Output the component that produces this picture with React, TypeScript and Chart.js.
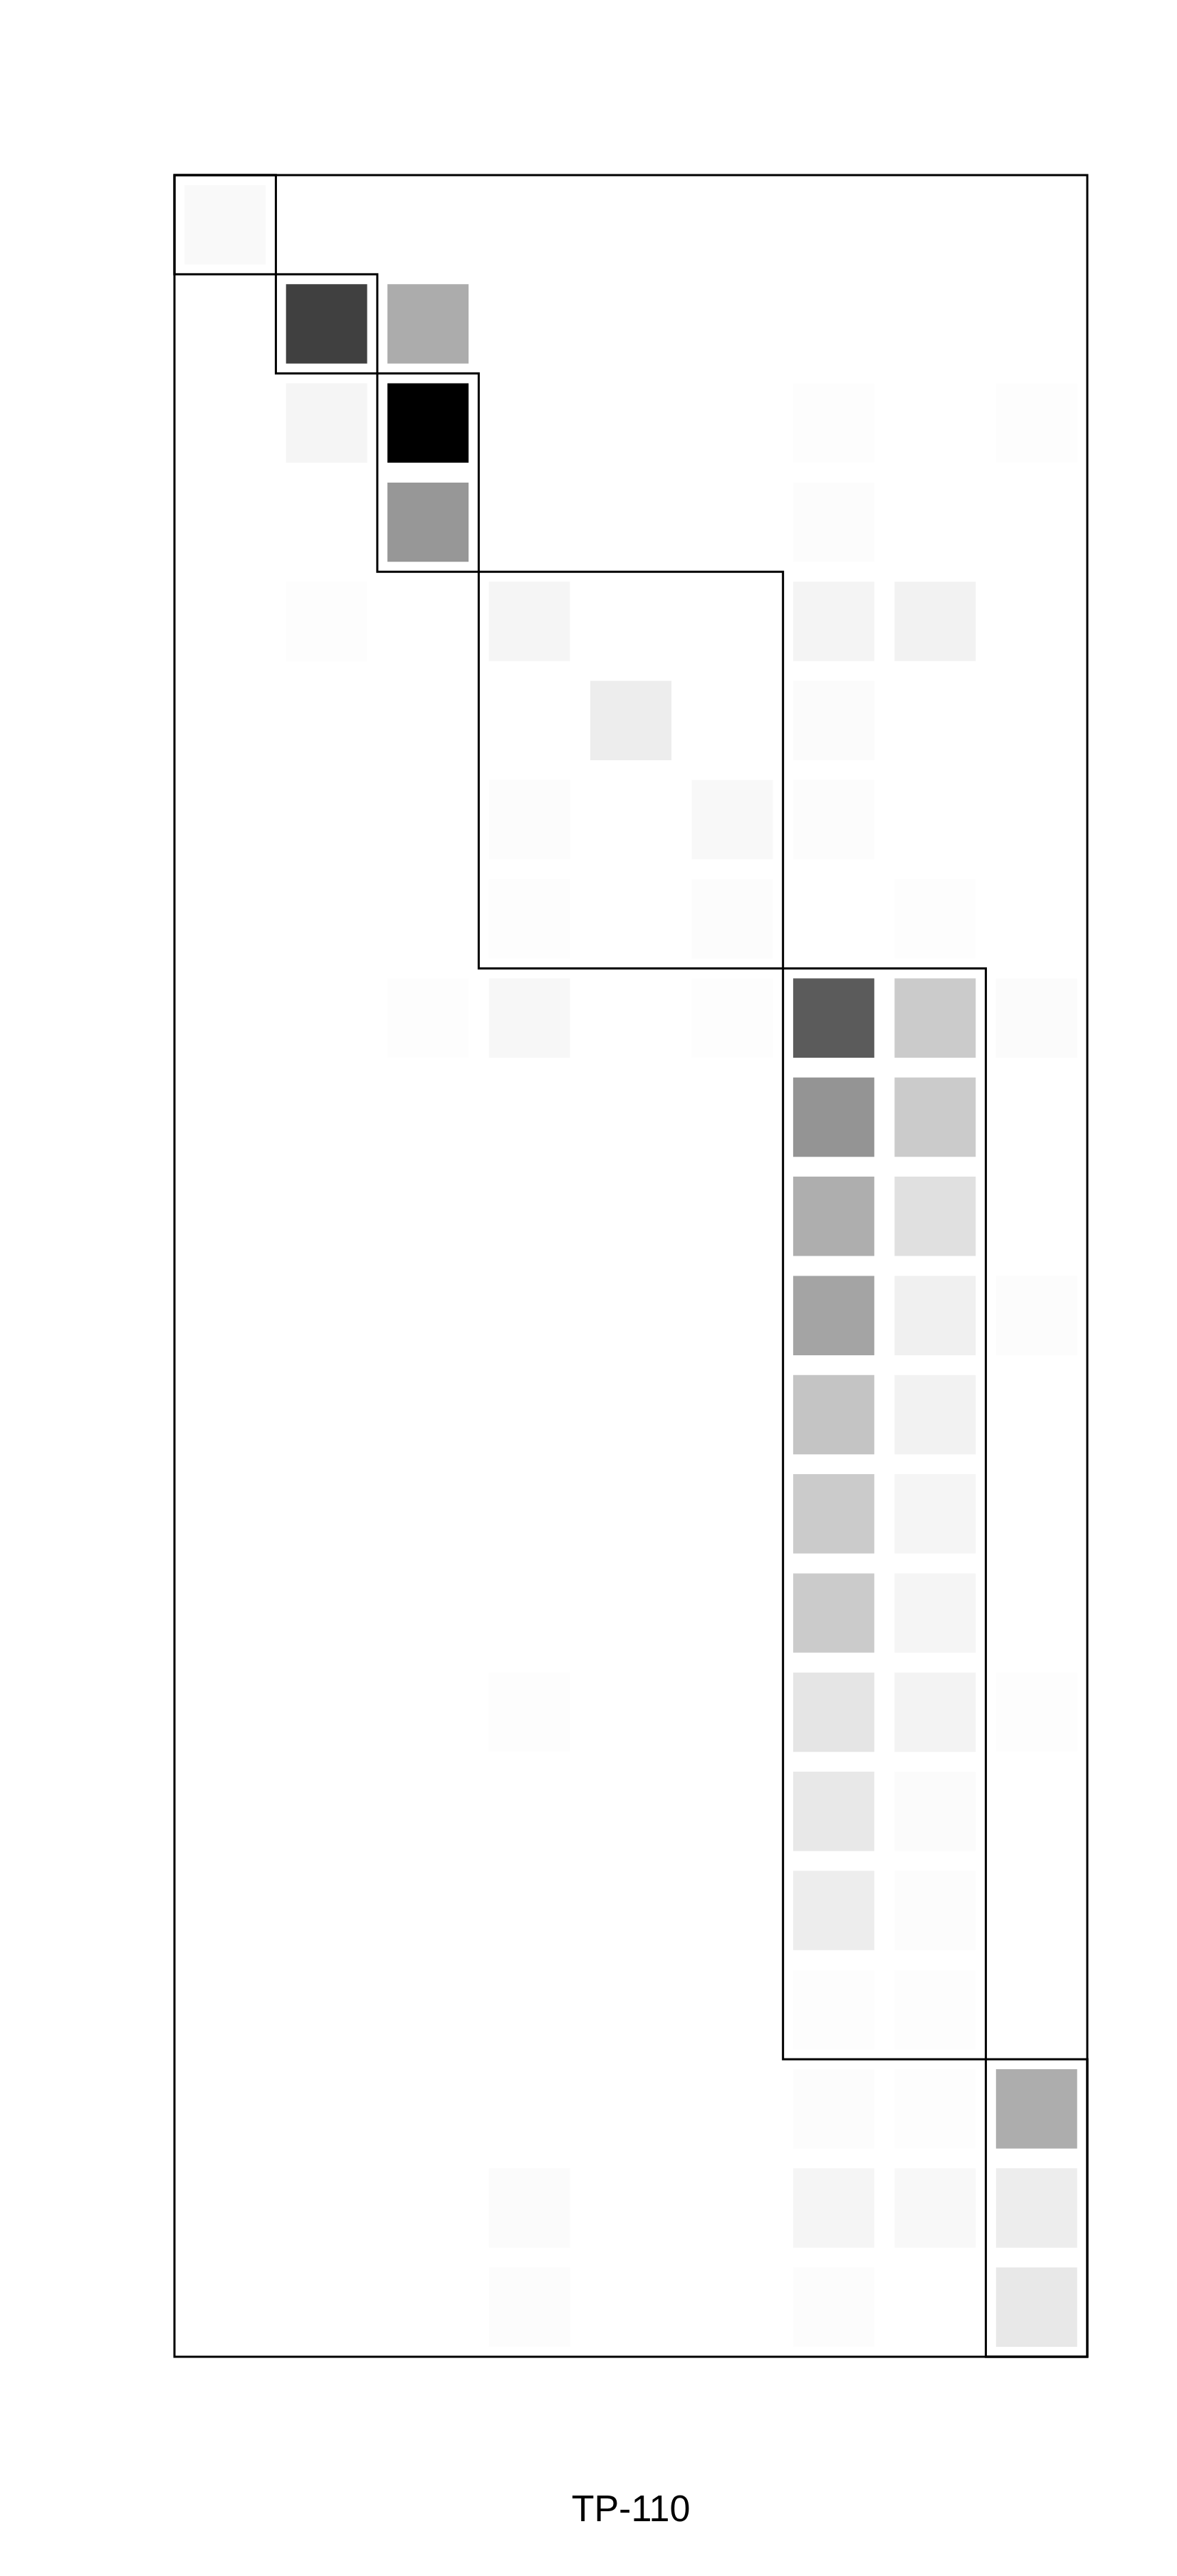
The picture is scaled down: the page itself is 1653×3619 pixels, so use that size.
import React, { useEffect, useRef } from "react";
import { Chart, registerables } from "chart.js";

Chart.register(...registerables);

// Row categories (22) and columns (9)
const rowLabels = Array.from({ length: 22 }, (_, i) => `R${i + 1}`);
const colLabels = ["C1", "C2", "C3", "C4", "C5", "C6", "C7", "C8", "C9"];

// Darkness of each cell (0 = white, 255 = black), one array per column, rows top to bottom
const col1 = [6, 0, 0, 0, 0, 0, 0, 0, 0, 0, 0, 0, 0, 0, 0, 0, 0, 0, 0, 0, 0, 0];
const col2 = [0, 191, 10, 0, 2, 0, 0, 0, 0, 0, 0, 0, 0, 0, 0, 0, 0, 0, 0, 0, 0, 0];
const col3 = [0, 83, 255, 104, 0, 0, 0, 0, 2, 0, 0, 0, 0, 0, 0, 0, 0, 0, 0, 0, 0, 0];
const col4 = [0, 0, 0, 0, 10, 0, 3, 2, 8, 0, 0, 0, 0, 0, 0, 2, 0, 0, 0, 0, 4, 3];
const col5 = [0, 0, 0, 0, 0, 18, 0, 0, 0, 0, 0, 0, 0, 0, 0, 0, 0, 0, 0, 0, 0, 0];
const col6 = [0, 0, 0, 0, 0, 0, 7, 3, 2, 0, 0, 0, 0, 0, 0, 0, 0, 0, 0, 0, 0, 0];
const col7 = [0, 0, 2, 3, 11, 4, 3, 0, 164, 107, 81, 91, 59, 52, 52, 26, 23, 18, 2, 3, 10, 3];
const col8 = [0, 0, 0, 0, 13, 0, 0, 2, 52, 52, 31, 15, 13, 10, 10, 12, 4, 3, 2, 2, 7, 0];
const col9 = [0, 0, 2, 0, 0, 0, 0, 0, 4, 0, 0, 3, 0, 0, 0, 2, 0, 0, 0, 82, 18, 23];
const columns = [col1, col2, col3, col4, col5, col6, col7, col8, col9];

// Block outlines: [firstRow, lastRow, firstCol, lastCol] (inclusive, 0-based)
const blocks = [
  [0, 0, 0, 0],
  [1, 1, 1, 1],
  [2, 3, 2, 2],
  [4, 7, 3, 5],
  [8, 18, 6, 7],
  [19, 21, 8, 8],
];

const titleText = "TP-110";

const W = 1653;
const H = 3619;

const greyOf = (v: number) => {
  if (!v) return "rgba(255,255,255,0)";
  const g = 255 - v;
  return `rgb(${g},${g},${g})`;
};

const outlinePlugin = {
  id: "blockOutlines",
  afterDatasetsDraw(chart: any) {
    const { ctx, chartArea, scales } = chart;
    const xs = scales.x;
    const ys = scales.y;
    ctx.save();
    ctx.strokeStyle = "#000";
    ctx.lineWidth = 3;
    for (const [r0, r1, c0, c1] of blocks) {
      const x0 = xs.getPixelForValue(c0);
      const x1 = xs.getPixelForValue(c1 + 1);
      const y0 = ys.getPixelForValue(r0 - 0.5);
      const y1 = ys.getPixelForValue(r1 + 0.5);
      ctx.strokeRect(x0, y0, x1 - x0, y1 - y0);
    }
    ctx.strokeRect(
      chartArea.left,
      chartArea.top,
      chartArea.right - chartArea.left,
      chartArea.bottom - chartArea.top
    );
    ctx.restore();
  },
  afterDraw(chart: any) {
    const { ctx, chartArea } = chart;
    ctx.save();
    ctx.fillStyle = "#000";
    ctx.font = '52px "Liberation Sans", Arial, sans-serif';
    ctx.textAlign = "center";
    ctx.textBaseline = "alphabetic";
    ctx.fillText(titleText, (chartArea.left + chartArea.right) / 2, 3542);
    ctx.restore();
  },
};

export default function App() {
  const ref = useRef<HTMLCanvasElement | null>(null);
  useEffect(() => {
    if (!ref.current) return;
    const datasets = columns.map((vals, c) => ({
      label: colLabels[c],
      data: vals.map(() => [c + 0.1, c + 0.9]),
      backgroundColor: vals.map(greyOf),
      borderWidth: 0,
      barPercentage: 0.8,
      categoryPercentage: 1,
      grouped: false,
    }));
    const chart = new Chart(ref.current, {
      type: "bar",
      data: { labels: rowLabels, datasets: datasets as any },
      options: {
        indexAxis: "y",
        animation: false,
        responsive: false,
        devicePixelRatio: 1,
        layout: { padding: { left: 245, right: 126, top: 246, bottom: 308 } },
        plugins: {
          legend: { display: false },
          title: { display: false },
          tooltip: { enabled: false },
        },
        scales: {
          x: { type: "linear", min: 0, max: 9, display: false, grid: { display: false } },
          y: { type: "category", display: false, grid: { display: false } },
        },
      } as any,
      plugins: [outlinePlugin],
    });
    return () => chart.destroy();
  }, []);
  return (
    <div style={{ position: "absolute", left: 0, top: 0, width: W, height: H, background: "#fff" }}>
      <canvas ref={ref} width={W} height={H} style={{ width: W, height: H, display: "block" }} />
    </div>
  );
}
